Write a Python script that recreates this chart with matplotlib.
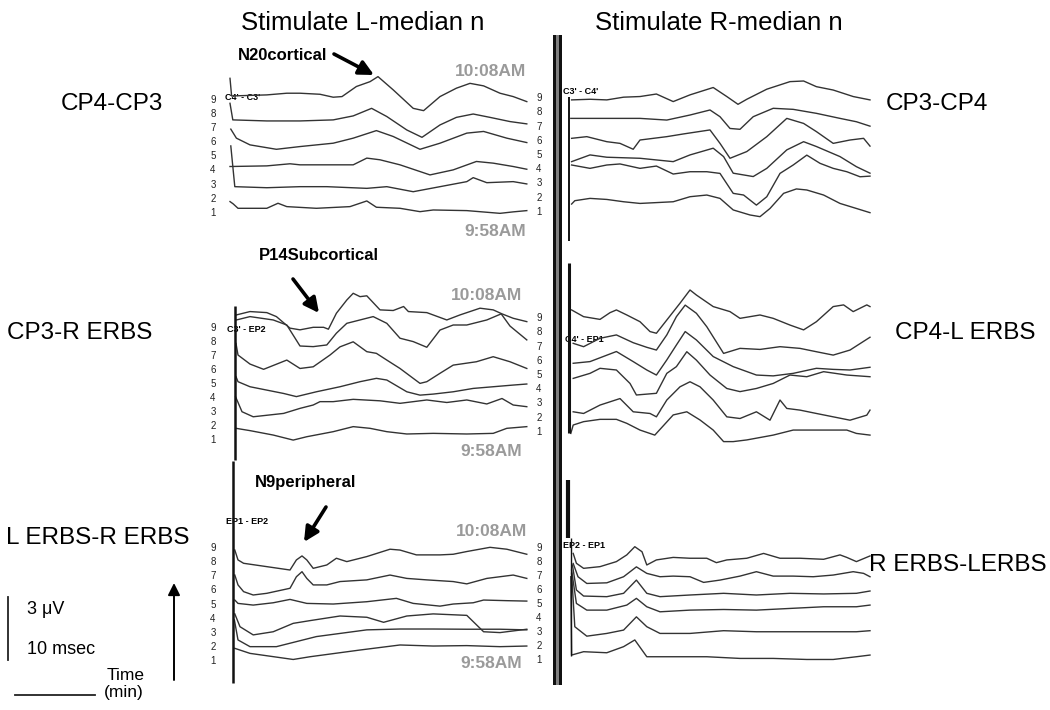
import numpy as np
import matplotlib
matplotlib.use("Agg")
import matplotlib.pyplot as plt
from matplotlib.patches import Rectangle, FancyArrowPatch

plt.rcParams['font.family'] = ['Liberation Sans', 'DejaVu Sans']

# ---------------------------------------------------------------- data
# Each panel: 6 averaged evoked-potential traces (bottom = earliest 9:58AM,
# top = latest 10:08AM).  Times in ms, amplitudes in microvolts relative to
# each trace's own baseline.

# Top-left: CP4-CP3, stimulate L median
TL_T = [
    [0, 0.4, 1.0, 4.6, 6.0, 7.1, 10.8, 15.0, 17.1, 18.3, 21.25, 23.75, 25.4, 29.6, 33.75, 35.4, 37.1],
    [0.1, 0.6, 4.6, 8.75, 12.1, 17.1, 19.6, 22.9, 26.25, 29.6, 30.4, 32.1, 35.4, 37.1],
    [0, 4.6, 7.5, 8.75, 15.4, 17.1, 18.75, 21.25, 25.0, 27.9, 30.8, 32.9, 35.4, 37.1],
    [0.1, 0.8, 2.5, 5.8, 8.75, 12.9, 15.4, 18.3, 20.4, 23.75, 26.25, 29.6, 31.7, 34.6, 37.1],
    [0, 0.35, 4.6, 8.75, 12.9, 15.4, 17.7, 19.6, 22.1, 24.0, 26.25, 28.3, 30.4, 32.5, 35.0, 37.1],
    [0, 0.2, 4.6, 7.1, 8.75, 11.25, 12.9, 14.0, 15.8, 17.5, 18.5, 20.4, 22.9, 24.2, 26.25, 28.3, 30.0, 31.7, 33.75, 35.4, 37.1],
]
TL_V = [
    [0.32, 0.21, 0, 0, 0.24, 0.08, 0, 0.08, 0.35, 0.05, 0, -0.16, -0.08, -0.11, -0.24, -0.17, -0.11],
    [1.97, 0.03, -0.02, 0.03, 0.03, -0.05, 0.03, -0.21, 0.03, 0.27, 0.46, 0.22, 0.27, 0.16],
    [-0.03, 0, 0.1, 0.05, 0.05, 0.37, 0.29, 0.05, -0.43, -0.19, 0.21, 0.13, -0.03, -0.16],
    [0.67, 0.24, -0.08, -0.29, -0.16, 0, 0.24, 0.60, 0.32, -0.29, 0, 0.48, 0.56, 0.24, 0.03],
    [0.84, 0.05, 0, 0, 0.05, 0.24, 0.60, 0.21, -0.43, -0.78, -0.19, 0.17, 0.33, 0.17, -0.03, -0.14],
    [0.87, 0.03, 0.08, 0.16, 0.16, 0.11, -0.03, 0, 0.48, 0.71, 0.95, 0.32, -0.56, -0.67, 0, 0.40, 0.63, 0.51, 0.16, 0, -0.24],
]

# Top-right: CP3-CP4, stimulate R median
TR_T = [
    [0.2, 0.6, 2.5, 4.6, 6.7, 8.75, 12.9, 15.0, 17.1, 18.75, 20.4, 22.5, 23.75, 25.0, 26.7, 28.3, 29.6, 31.7, 33.75, 35.8, 37.5],
    [0.2, 2.5, 4.6, 6.25, 8.75, 10.8, 12.9, 15.0, 17.1, 18.75, 20.4, 21.7, 23.3, 24.6, 26.25, 27.9, 29.6, 31.25, 32.9, 34.6, 36.25, 37.5],
    [0.2, 2.5, 4.6, 8.75, 12.9, 15.0, 17.9, 19.2, 20.4, 22.9, 24.6, 27.1, 29.2, 30.8, 33.75, 35.8, 37.5],
    [0.2, 2.1, 4.6, 6.25, 7.9, 8.75, 12.1, 14.2, 17.5, 18.75, 20.0, 22.1, 24.6, 27.1, 29.2, 30.8, 32.9, 35.0, 36.7, 37.5],
    [0.1, 4.6, 8.75, 12.1, 15.0, 17.5, 18.75, 20.0, 21.25, 22.9, 25.4, 27.9, 30.8, 33.75, 35.8, 37.5],
    [0.2, 2.5, 4.6, 6.7, 8.75, 10.8, 12.9, 15.0, 17.9, 19.6, 21.0, 22.1, 24.6, 27.5, 29.2, 30.8, 32.9, 35.4, 37.5],
]
TR_V = [
    [-0.16, 0, 0.11, 0.06, -0.05, -0.13, -0.05, 0.19, 0.27, 0.11, -0.44, -0.68, -0.76, -0.37, 0.35, 0.56, 0.51, 0.27, -0.13, -0.37, -0.57],
    [0.05, -0.11, 0.05, 0.10, -0.11, 0, -0.38, -0.27, -0.27, -0.35, -1.30, -1.38, -1.86, -1.46, -0.35, 0.05, 0.52, 0.13, -0.11, -0.27, -0.51, -0.48],
    [-0.16, 0.16, 0.05, 0, -0.16, 0.16, 0.48, 0.08, -0.71, -0.87, -0.48, 0.40, 0.79, 0.56, 0.08, -0.40, -0.71],
    [0, 0.08, -0.16, -0.24, -0.52, -0.08, 0.08, 0.21, 0.40, -0.24, -0.95, -0.63, 0.08, 0.95, 0.71, 0.32, -0.24, -0.08, 0, -0.37],
    [0, 0, 0, -0.08, 0.16, 0.40, 0.08, -0.48, -0.52, 0.08, 0.48, 0.43, 0.24, 0, -0.16, -0.37],
    [-0.03, 0, -0.03, 0.10, 0.13, 0.25, -0.11, 0.21, 0.56, 0.13, -0.24, 0, 0.48, 0.84, 0.87, 0.60, 0.44, 0.13, -0.03],
]

# Middle-left: CP3-R ERBS, stimulate L median
ML_T = [
    [0.75, 2.5, 5.4, 7.9, 9.6, 12.9, 15.4, 17.5, 19.6, 22.1, 25.4, 29.6, 32.9, 34.6, 37.1],
    [0.7, 1.5, 2.9, 6.7, 8.75, 10.4, 11.25, 12.9, 15.4, 18.75, 21.25, 24.6, 27.1, 29.6, 32.1, 34.0, 35.4, 37.1],
    [0.75, 1.0, 2.5, 6.7, 8.3, 10.8, 13.75, 16.25, 18.3, 19.6, 22.1, 23.75, 25.4, 27.9, 30.4, 32.9, 35.4, 37.1],
    [0.75, 1.0, 2.5, 4.2, 7.1, 8.75, 10.4, 12.5, 13.75, 15.4, 17.1, 18.3, 19.6, 21.25, 23.75, 24.6, 26.25, 27.9, 30.8, 32.9, 35.0, 37.1],
    [0.8, 2.5, 5.4, 7.1, 8.75, 10.4, 12.1, 13.3, 14.6, 17.9, 19.6, 21.25, 22.9, 24.6, 26.25, 27.9, 29.6, 32.1, 33.9, 35.0, 37.1],
    [0.8, 2.5, 4.6, 5.8, 7.5, 8.75, 10.4, 11.7, 12.3, 13.3, 14.6, 15.4, 16.25, 17.1, 18.75, 20.4, 21.7, 22.3, 24.6, 27.1, 28.75, 31.25, 32.9, 34.0, 35.4, 37.1],
]
ML_V = [
    [0.08, -0.03, -0.24, -0.48, -0.32, -0.08, 0.16, 0.08, -0.08, -0.19, -0.16, -0.19, -0.16, 0.08, 0.16],
    [0.71, 0, -0.24, -0.08, 0.16, 0.32, 0.48, 0.48, 0.59, 0.52, 0.40, 0.56, 0.44, 0.56, 0.37, 0.63, 0.32, 0.24],
    [0.32, 0.08, -0.16, -0.48, -0.63, -0.40, -0.16, 0.08, 0.24, 0.16, -0.40, -0.56, -0.51, -0.40, -0.24, -0.16, -0.08, -0.03],
    [0.79, 0.24, -0.19, -0.44, 0, -0.40, -0.32, 0.24, 0.63, 0.87, 0.40, 0.32, 0, -0.40, -1.11, -1.03, -0.63, -0.24, -0.08, 0.16, -0.08, -0.40],
    [0, 0.16, 0, -0.24, -1.24, -1.27, -1.19, -0.63, -0.16, 0.16, -0.16, -0.87, -1.03, -1.30, -0.48, -0.24, -0.24, 0, 0.29, -0.29, -0.95],
    [-0.08, 0.08, 0.03, -0.16, -0.71, -0.79, -0.67, -0.67, -0.76, 0, 0.63, 0.95, 0.79, 0.83, 0.16, 0.13, 0.32, 0.08, 0.03, -0.32, -0.08, 0.24, 0.16, -0.03, -0.24, -0.40],
]

# Middle-right: CP4-L ERBS, stimulate R median
MR_T = [
    [0.1, 0.4, 1.7, 3.75, 5.8, 7.1, 8.75, 10.6, 12.9, 14.6, 16.25, 17.9, 19.2, 20.4, 22.1, 25.4, 27.9, 30.8, 34.6, 35.8, 37.5],
    [0.4, 1.7, 3.75, 6.25, 7.9, 10.0, 10.8, 12.1, 13.75, 15.0, 16.25, 17.9, 19.6, 21.25, 23.3, 25.0, 26.25, 27.1, 28.75, 30.8, 32.9, 35.0, 37.1, 37.5],
    [0.4, 2.5, 3.75, 5.8, 7.5, 8.3, 10.8, 12.1, 13.3, 14.6, 15.8, 17.5, 19.6, 21.25, 23.3, 25.4, 27.5, 29.6, 31.7, 34.6, 37.5],
    [0.4, 2.5, 5.8, 7.9, 9.6, 10.8, 12.1, 13.3, 14.4, 15.8, 17.9, 20.4, 23.3, 25.4, 27.9, 30.8, 32.9, 35.0, 37.5],
    [0.4, 1.7, 3.75, 5.8, 7.9, 9.6, 10.8, 12.1, 13.3, 14.4, 15.8, 17.1, 19.2, 21.25, 23.75, 26.25, 28.75, 30.8, 32.9, 35.0, 37.5],
    [0.2, 1.7, 3.75, 5.0, 5.8, 7.1, 8.75, 10.0, 10.8, 12.1, 13.75, 15.0, 15.8, 17.9, 20.0, 21.25, 23.75, 25.4, 27.5, 29.2, 30.8, 32.9, 34.2, 35.4, 37.1, 37.5],
]
MR_V = [
    [-0.32, 0.08, 0.24, 0.35, 0.35, 0.16, -0.16, -0.40, 0.56, 0.71, 0.32, -0.16, -0.71, -0.71, -0.63, -0.40, -0.16, -0.16, -0.16, -0.32, -0.40],
    [0, -0.08, 0.32, 0.63, 0, -0.08, -0.24, 0.56, 1.19, 1.43, 1.19, 0.56, -0.24, -0.32, 0, -0.40, 0.56, 0.16, 0.08, -0.08, -0.24, -0.40, -0.16, 0.08],
    [0, 0.24, 0.48, 0.40, -0.24, -0.79, -0.71, 0.24, 0.56, 1.27, 0.87, 0.16, -0.48, -0.63, -0.48, -0.24, 0.16, 0.08, 0.32, 0.16, 0.08],
    [0, 0.08, 0.56, 0.08, -0.32, -0.56, 0.16, 0.87, 1.51, 1.11, 0.32, -0.16, -0.56, -0.60, -0.48, -0.24, -0.29, -0.32, -0.19],
    [0.08, -0.08, 0.32, 0.48, 0.11, -0.11, -0.24, 0.48, 1.35, 1.90, 1.51, 0.87, -0.40, -0.16, -0.21, -0.08, -0.16, -0.32, -0.48, -0.24, 0.37],
    [0.24, -0.08, -0.21, 0.11, 0.24, 0, -0.32, -0.79, -0.87, -0.24, 0.56, 1.19, 0.95, 0.40, 0.16, -0.16, 0, -0.16, -0.48, -0.71, -0.32, 0.40, 0.48, 0.16, 0.48, 0.40],
]

# Bottom-left: L ERBS-R ERBS, stimulate L median
BL_T = [
    [0.6, 2.5, 7.9, 10.0, 16.25, 21.25, 25.4, 29.6, 33.75, 37.1],
    [0.55, 1.0, 2.5, 5.8, 10.8, 17.1, 21.25, 25.4, 29.6, 33.75, 37.1],
    [0.6, 1.25, 2.9, 5.4, 7.9, 10.0, 13.75, 17.1, 19.2, 22.1, 25.4, 29.6, 31.7, 33.75, 37.1],
    [0.6, 1.0, 2.9, 5.4, 7.5, 9.6, 12.9, 17.1, 20.8, 22.9, 26.25, 27.9, 30.4, 31.7, 34.6, 37.1],
    [0.6, 1.0, 1.7, 2.9, 4.6, 7.5, 8.3, 9.0, 9.6, 10.4, 12.1, 13.75, 17.1, 20.0, 22.1, 24.6, 27.9, 29.6, 32.1, 35.4, 37.1],
    [0.6, 1.0, 1.7, 4.6, 7.5, 8.3, 9.0, 9.6, 10.4, 12.1, 13.3, 14.6, 17.1, 20.0, 21.25, 23.3, 26.25, 27.9, 29.6, 32.5, 34.6, 37.1],
]
BL_V = [
    [0.16, -0.08, -0.37, -0.24, 0.08, 0.32, 0.27, 0.29, 0.24, 0.27],
    [0.95, 0, -0.32, -0.32, 0.16, 0.48, 0.52, 0.52, 0.51, 0.51, 0.48],
    [0.29, -0.32, -0.71, -0.56, -0.16, -0.03, 0.19, 0.13, -0.11, 0.19, 0.29, 0.22, -0.56, -0.60, -0.44],
    [0.16, 0, -0.08, 0.03, 0.19, 0, -0.03, 0.08, 0.24, 0, -0.13, -0.03, 0.03, 0.16, 0.13, 0.11],
    [0.79, 0.32, 0, -0.16, -0.08, 0.16, 0.71, 0.95, 0.63, 0.32, 0.32, 0.48, 0.56, 0.79, 0.63, 0.56, 0.48, 0.37, 0.63, 0.79, 0.63],
    [0.63, 0.16, 0, -0.16, -0.32, 0.16, 0.35, 0.16, -0.24, -0.08, 0.24, 0.08, 0.32, 0.67, 0.63, 0.40, 0.40, 0.43, 0.56, 0.76, 0.67, 0.43],
]

# Bottom-right: R ERBS-L ERBS, stimulate R median
BR_T = [
    [0.1, 0.2, 1.7, 4.6, 6.7, 8.1, 9.6, 12.9, 17.1, 21.25, 25.4, 29.6, 32.9, 35.8, 37.5],
    [0.2, 0.6, 2.1, 4.6, 6.7, 8.3, 9.6, 11.25, 15.0, 19.2, 23.3, 27.5, 31.7, 35.8, 37.5],
    [0.2, 0.8, 2.1, 4.6, 7.1, 8.3, 9.6, 11.25, 15.0, 19.2, 23.3, 27.5, 31.7, 35.8, 37.5],
    [0.3, 0.8, 1.7, 4.6, 6.7, 8.3, 9.6, 11.25, 15.0, 19.2, 23.3, 27.5, 31.7, 35.8, 37.5],
    [0.4, 1.0, 2.1, 4.6, 6.7, 8.3, 9.6, 11.25, 12.9, 15.0, 16.7, 18.75, 21.25, 23.3, 25.4, 27.9, 30.4, 32.9, 35.4, 36.7, 37.5],
    [0.4, 0.8, 1.7, 3.75, 5.8, 7.1, 8.1, 9.0, 9.6, 10.8, 12.9, 15.0, 17.1, 18.3, 19.6, 22.1, 24.2, 26.25, 28.75, 31.7, 33.75, 34.6, 35.8, 37.5],
]
BR_V = [
    [3.57, -0.16, 0, -0.05, 0.24, 0.56, -0.24, -0.24, -0.24, -0.32, -0.32, -0.37, -0.37, -0.24, -0.16],
    [2.86, 0.32, -0.13, 0, 0.16, 0.79, 0.32, 0, 0, 0.13, 0.08, 0.08, 0.08, 0.08, 0.13],
    [1.90, 0.32, 0, 0, 0.24, 0.56, 0.16, -0.08, 0, 0.03, 0, 0.08, 0.16, 0.16, 0.24],
    [1.51, 0.32, 0.03, 0, 0.16, 0.79, 0.16, 0, 0.08, 0.16, 0.08, 0.16, 0.13, 0.16, 0.27],
    [0.95, 0.32, 0, 0.03, 0.32, 0.79, 0.48, 0.32, 0.35, 0.32, 0.05, 0.16, 0.35, 0.56, 0.35, 0.35, 0.32, 0.40, 0.56, 0.48, 0.32],
    [0.63, 0.16, -0.08, 0, 0.24, 0.56, 0.95, 0.71, 0.08, 0.32, 0.44, 0.40, 0.40, 0.19, 0.32, 0.40, 0.63, 0.40, 0.40, 0.35, 0.56, 0.44, 0.24, 0.51],
]

ROW_NUMBERS = ["9", "8", "7", "6", "5", "4", "3", "2", "1"]
TITLES = ["Stimulate L-median n", "Stimulate R-median n"]
LEFT_LABELS = ["CP4-CP3", "CP3-R ERBS", "L ERBS-R ERBS"]
RIGHT_LABELS = ["CP3-CP4", "CP4-L ERBS", "R ERBS-LERBS"]
CHANNELS = ["C4' - C3'", "C3' - C4'", "C3' - EP2", "C4' - EP1", "EP1 - EP2", "EP2 - EP1"]
PEAKS = ["N20cortical", "P14Subcortical", "N9peripheral"]

# ---------------------------------------------------------------- layout
W, H = 1050, 710
PX_MS, PX_UV = 8.0, 21.0          # display scale: pixels per ms / per uV
TRACE_COLOR = "#333333"

fig = plt.figure(figsize=(10.5, 7.1), dpi=100)
ov = fig.add_axes([0, 0, 1, 1])
ov.set_xlim(0, W)
ov.set_ylim(H, 0)
ov.axis("off")


def make_panel(x0, ybase):
    left, right, top, bottom = x0 - 20, x0 + 320, ybase - 165, ybase + 45
    ax = fig.add_axes([left / W, 1 - bottom / H, (right - left) / W, (bottom - top) / H])
    ax.set_xlim(-20 / PX_MS, 320 / PX_MS)
    ax.set_ylim(-45 / PX_UV, 165 / PX_UV)
    ax.axis("off")
    ax.patch.set_alpha(0)
    return ax


panels = [
    # times, values, anchor x, baseline y, trace offsets (uV), stim-mark spans
    (TL_T, TL_V, 230, 208.3, [0, 1.0, 2.02, 3.1, 4.16, 5.32], []),
    (TR_T, TR_V, 570, 200.7, [0, 1.65, 2.02, 2.97, 3.92, 4.83], [(-0.1, -1.9, 4.95, 1.4)]),
    (ML_T, ML_V, 230, 430.0, [0, 0.87, 2.22, 3.33, 5.24, 5.56], [(0.6, -1.45, 5.9, 1.8)]),
    (MR_T, MR_V, 570, 426.7, [0, 0.71, 2.30, 3.02, 3.89, 5.32], [(-0.1, -0.3, 7.8, 2.2)]),
    (BL_T, BL_V, 230, 651.7, [0, 0.56, 1.51, 2.30, 2.86, 4.21], [(0.4, -1.5, 9.1, 1.8)]),
    (BR_T, BR_V, 570, 651.7, [0, 0.87, 1.98, 2.62, 3.25, 4.05], [(-0.3, 5.4, 8.2, 3.0), (0.1, -0.2, 5.4, 1.0)]),
]

for T, V, x0, yb, offs, marks in panels:
    ax = make_panel(x0, yb)
    for t, v, off in zip(T, V, offs):
        ax.plot(t, np.asarray(v) + off, color=TRACE_COLOR, lw=1.0, clip_on=False,
                solid_joinstyle="round")
    for tx, lo, hi, lw in marks:
        ax.vlines(tx, lo, hi, color="#111111", lw=lw, clip_on=False)

# row numbers
for xn, y9, y1 in [(213, 100, 212.7), (213, 328, 440), (213, 548, 661),
                   (539, 98, 212), (539, 318, 432), (539, 548, 660)]:
    for k, lab in enumerate(ROW_NUMBERS):
        ov.text(xn, y9 + (y1 - y9) * k / 8, lab, fontsize=7, ha="center", va="center",
                color="#222222")

# central divider: black double rule with grey core
ov.add_patch(Rectangle((553, 35), 9, 650, facecolor="#111111", edgecolor="none"))
ov.add_patch(Rectangle((556, 35), 3.2, 650, facecolor="#808080", edgecolor="none"))

# titles and channel labels
ov.text(363, 23, TITLES[0], fontsize=18.5, ha="center", va="center")
ov.text(719, 23, TITLES[1], fontsize=18.5, ha="center", va="center")
for lab, (x, y) in zip(LEFT_LABELS, [(112, 104), (80, 333), (98, 538)]):
    ov.text(x, y, lab, fontsize=17.5, ha="center", va="center")
for lab, (x, y) in zip(RIGHT_LABELS, [(937, 104), (965, 333), (958, 565)]):
    ov.text(x, y, lab, fontsize=17.5, ha="center", va="center")

for lab, (x, y) in zip(CHANNELS, [(225, 97), (563, 92), (227, 330), (565, 340), (226, 522), (563, 545)]):
    ov.text(x, y, lab, fontsize=6.5, fontweight="bold", ha="left", va="center")

# time stamps
for x, y, lab in [(526, 72, "10:08AM"), (526, 231, "9:58AM"),
                  (522, 296, "10:08AM"), (522, 451, "9:58AM"),
                  (527, 531, "10:08AM"), (522, 663, "9:58AM")]:
    ov.text(x, y, lab, fontsize=12.5, fontweight="bold", color="#9a9a9a",
            ha="right", va="center")

# peak annotations
for lab, (tx, ty), (a0, a1) in zip(
        PEAKS,
        [(283, 55), (319, 255), (306, 483)],
        [((334, 54), (374, 75)), ((293, 279), (319, 313)), ((326, 507), (304, 542))]):
    ov.text(tx, ty, lab, fontsize=12, fontweight="bold", ha="center", va="center")
    ov.add_patch(FancyArrowPatch(a0, a1, arrowstyle="-|>", mutation_scale=22,
                                 lw=2.6, color="black", shrinkA=0, shrinkB=0))

# scale bar and time arrow
ov.plot([8, 8], [597, 660], color="#222222", lw=1.3)
ov.plot([15, 95], [695, 695], color="#222222", lw=1.3)
ov.text(27, 610, "3 \u03bcV", fontsize=13, ha="left", va="center")
ov.text(27, 650, "10 msec", fontsize=13, ha="left", va="center")
ov.text(126, 675, "Time", fontsize=12.5, ha="center", va="center")
ov.text(124, 693, "(min)", fontsize=12.5, ha="center", va="center")
ov.add_patch(FancyArrowPatch((174, 680), (174, 583), arrowstyle="-|>", mutation_scale=18,
                             lw=1.4, color="black", shrinkA=0, shrinkB=0))

fig.savefig("out.png", dpi=100)
